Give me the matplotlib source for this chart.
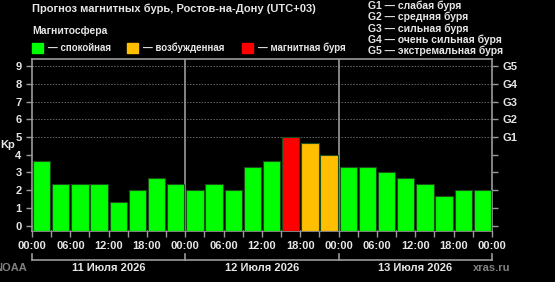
import matplotlib
matplotlib.use('Agg')
import matplotlib.pyplot as plt
import numpy as np

plt.rcParams['font.family'] = ['Liberation Sans', 'DejaVu Sans']
plt.rcParams['font.weight'] = 'bold'

# Kp forecast, 3-hour intervals, 3 days
kp_values = [3.67, 2.33, 2.33, 2.33, 1.33, 2.0, 2.67, 2.33,
             2.0, 2.33, 2.0, 3.33, 3.67, 5.0, 4.67, 4.0,
             3.33, 3.33, 3.0, 2.67, 2.33, 1.67, 2.0, 2.0]
day_labels = ['11 Июля 2026', '12 Июля 2026', '13 Июля 2026']
hour_labels = ['00:00', '06:00', '12:00', '18:00']
g_labels = ['G1', 'G2', 'G3', 'G4', 'G5']
g_legend = ['G1 — слабая буря', 'G2 — средняя буря', 'G3 — сильная буря',
            'G4 — очень сильная буря', 'G5 — экстремальная буря']
state_labels = ['— спокойная', '— возбужденная', '— магнитная буря']

GREEN = '#00ff00'
ORANGE = '#ffbf00'
RED = '#ff0000'
FG = '#e6e6e6'
AXC = '#9a9a9a'


def bar_color(v):
    if v >= 5:
        return RED
    if v >= 4:
        return ORANGE
    return GREEN


W, H = 555, 282
fig = plt.figure(figsize=(W / 100, H / 100), dpi=100, facecolor='black')
x0, x1, y0, y1 = 32, 492, 59, 231
ax = fig.add_axes([x0 / W, 1 - y1 / H, (x1 - x0) / W, (y1 - y0) / H])
ax.set_facecolor('black')

ymin = -0.3
xs = np.arange(len(kp_values)) * 3 + 1.5
heights = [v - ymin for v in kp_values]
ax.bar(xs, heights, bottom=ymin, width=2.7, color=[bar_color(v) for v in kp_values],
       edgecolor='#1b4d1b', linewidth=0.8, zorder=3)

ax.set_xlim(0, 72)
ax.set_ylim(ymin, 9.4)

for lvl in range(5, 10):
    ax.axhline(lvl, color='#666666', linestyle=(0, (1.5, 1.5)), linewidth=0.7, zorder=1)
for d in (24, 48):
    ax.axvline(d, color=AXC, linewidth=1.2, zorder=2)

for s in ax.spines.values():
    s.set_color(AXC)
    s.set_linewidth(1.2)

ax.set_yticks(range(10))
ax.set_yticklabels([str(i) for i in range(10)])
ax.set_xticks(range(0, 73, 6))
ax.set_xticklabels([hour_labels[(h // 6) % 4] for h in range(0, 73, 6)])
ax.set_xticks(range(0, 73, 3), minor=True)
ax.tick_params(axis='both', colors=AXC, labelcolor=FG, labelsize=8, length=4, width=1)
ax.tick_params(axis='x', which='minor', colors=AXC, length=4, width=1)
ax.tick_params(axis='x', pad=3)
ax.set_ylabel('Kp', color=FG, fontsize=8, rotation=0, fontweight='bold', va='center', ha='center')
ax.yaxis.set_label_coords(-0.052, 0.5)

ax2 = ax.twinx()
ax2.set_ylim(ax.get_ylim())
ax2.set_yticks(range(10))
ax2.set_yticklabels([''] * 5 + g_labels)
ax2.tick_params(axis='y', colors=AXC, labelcolor=FG, labelsize=8, length=4, width=1)
for s in ax2.spines.values():
    s.set_visible(False)

# date bracket under the axis
bracket_y = 1 - 260 / H
tick_top = 1 - 254 / H
for i in range(4):
    xf = (x0 + i * (x1 - x0) / 3) / W
    fig.add_artist(plt.Line2D([xf, xf], [bracket_y, tick_top], color=AXC, linewidth=1.2))
fig.add_artist(plt.Line2D([x0 / W, x1 / W], [bracket_y, bracket_y], color=AXC, linewidth=1.2))
for i, lbl in enumerate(day_labels):
    xc = (x0 + (i + 0.5) * (x1 - x0) / 3) / W
    fig.text(xc, 1 - 268 / H, lbl, color=FG, fontsize=8, ha='center', va='center')

fig.text(-0.01, 1 - 268 / H, 'NOAA', color='#808080', fontsize=8, ha='left', va='center')
fig.text(473 / W, 1 - 268 / H, 'xras.ru', color='#808080', fontsize=8, ha='left', va='center')

# header
fig.text(x0 / W, 1 - 9 / H, 'Прогноз магнитных бурь, Ростов-на-Дону (UTC+03)',
         color=FG, fontsize=8, ha='left', va='center')
fig.text(x0 / W, 1 - 31 / H, 'Магнитосфера', color=FG, fontsize=7.5, ha='left', va='center')

legend_x = [32, 127, 242]
for lx, lbl, col in zip(legend_x, state_labels, [GREEN, ORANGE, RED]):
    fig.add_artist(plt.Rectangle((lx / W, 1 - 53 / H), 11 / W, 10 / H, color=col))
    fig.text((lx + 16) / W, 1 - 48 / H, lbl, color=FG, fontsize=7, ha='left', va='center')

for i, lbl in enumerate(g_legend):
    fig.text(368 / W, 1 - (6 + i * 11.2) / H, lbl, color=FG, fontsize=7.5, ha='left', va='center')

fig.savefig('out.png', dpi=100, facecolor='black')
